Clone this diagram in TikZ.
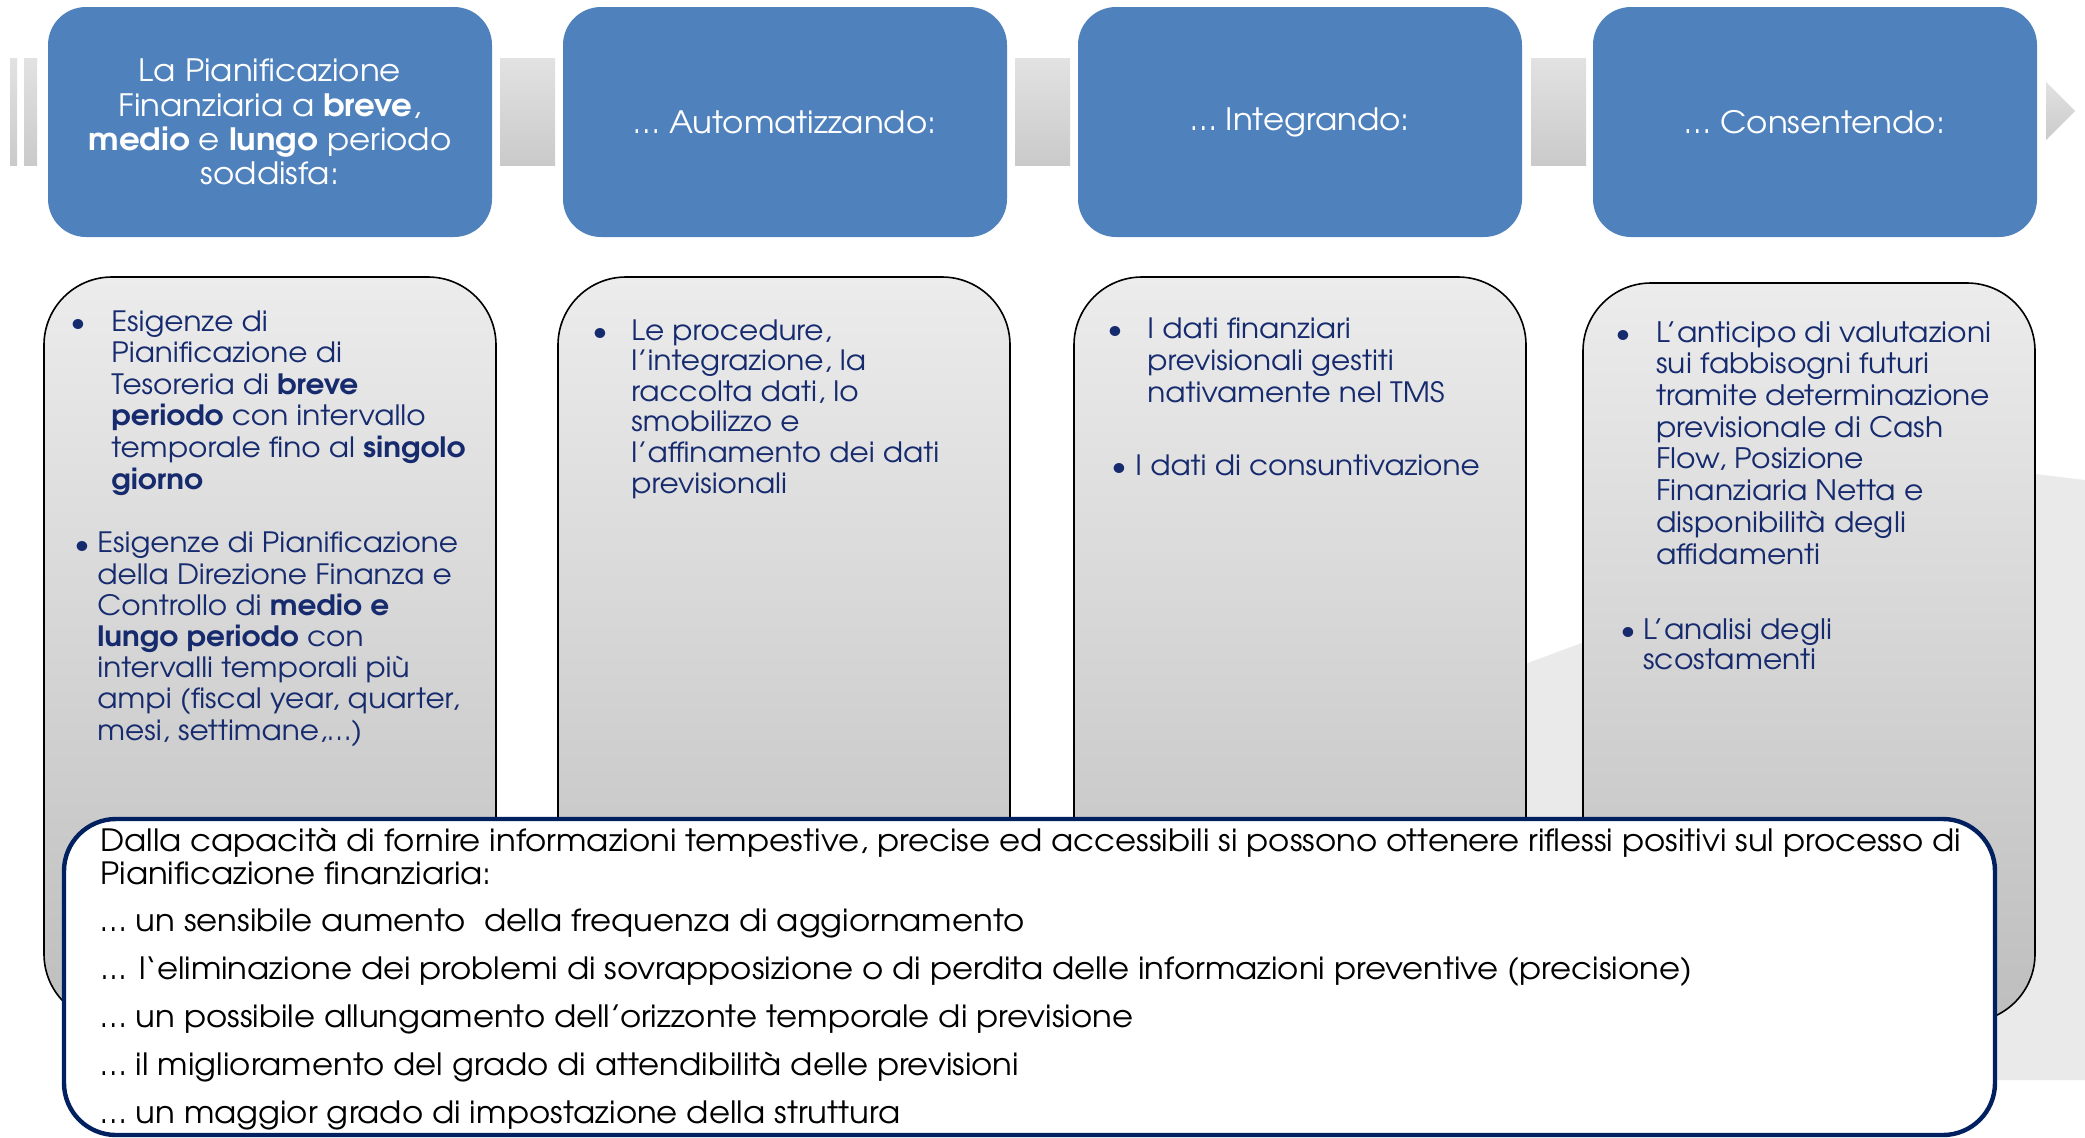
\documentclass[tikz,border=0pt]{standalone}
\usepackage{fontspec}
\setmainfont{TeX Gyre Adventor}[FakeStretch=1.055]
\definecolor{blueBox}{RGB}{79,129,189}
\definecolor{navyText}{RGB}{22,42,110}
\definecolor{navyLine}{RGB}{0,32,96}
\definecolor{barTop}{RGB}{226,226,226}
\definecolor{barBot}{RGB}{202,202,202}
\definecolor{panelTop}{RGB}{236,236,236}
\definecolor{panelBot}{RGB}{190,190,190}
\definecolor{bgShape}{RGB}{234,234,234}
\begin{document}
\begin{tikzpicture}[x=0.5pt,y=-0.5pt,
  headbox/.style={rectangle, rounded corners=19pt, fill=blueBox, minimum width=222pt, minimum height=115pt, inner sep=0pt, text=white, align=center, font=\fontsize{15.4}{17.15}\selectfont},
  barbox/.style={rectangle, inner sep=0pt, minimum height=53.5pt, top color=barTop, bottom color=barBot, draw=none},
  panel/.style={rectangle, rounded corners=34pt, draw=black, line width=0.8pt, top color=panelTop, bottom color=panelBot, minimum width=226pt, inner sep=0pt},
  itemtext/.style={anchor=base west, inner sep=0pt, align=left, text=navyText},
  bulletmark/.style={anchor=base, inner sep=0pt, text=navyText, font=\fontsize{14}{16}\selectfont},
  summary/.style={rectangle, rounded corners=26pt, draw=navyLine, line width=2.2pt, fill=white, minimum width=965.5pt, minimum height=158pt, inner sep=0pt},
  summarytext/.style={anchor=base west, inner sep=0pt, align=left, text=black, font=\fontsize{15.35}{16.5}\selectfont}
]
\useasboundingbox (0,0) rectangle (2085,1137);

% faint background shape
\fill[bgShape] (1450,692) -- (2035,474) -- (2085,480) -- (2085,1080) -- (1995,1080) -- (1450,1080) -- cycle;

% process bars
\node[barbox, minimum width=3.5pt] (barA) at (13.5,111.5) {};
\node[barbox, minimum width=6.5pt] (barB) at (30.5,111.5) {};
\node[barbox, minimum width=27.5pt] (bar12) at (527.5,111.5) {};
\node[barbox, minimum width=27.5pt] (bar23) at (1042.5,111.5) {};
\node[barbox, minimum width=27.5pt] (bar34) at (1558.5,111.5) {};
\coordinate (tipA) at (2046,82);
\coordinate (tipB) at (2075,111);
\coordinate (tipC) at (2046,140);
\shade[top color=barTop, bottom color=barBot] (tipA) -- (tipB) -- (tipC) -- cycle;

% header boxes
\node[headbox] (h1) at (270,122) {La Pianificazione\\Finanziaria a \textbf{breve},\\\textbf{medio} e \textbf{lungo} periodo\\soddisfa:};
\node[headbox] (h2) at (785,122) {… Automatizzando:};
\node[headbox] (h3) at (1300,122) {… Integrando:};
\node[headbox] (h4) at (1815,122) {… Consentendo:};

% panels
\node[panel, minimum height=372.5pt] (p1) at (270,649.5) {};
\node[panel, minimum height=372.5pt] (p2) at (784,649.5) {};
\node[panel, minimum height=372.5pt] (p3) at (1300,649.5) {};
\node[panel, minimum height=369.5pt] (p4) at (1809,652.5) {};

% panel 1
\node[bulletmark] (b11) at (78,331) {•};
\node[itemtext, font=\fontsize{14}{15.8}\selectfont] (t11) at (111,489) {Esigenze di\\Pianificazione di\\Tesoreria di \textbf{breve}\\\textbf{periodo} con intervallo\\temporale fino al \textbf{singolo}\\\textbf{giorno}};
\node[bulletmark] (b12) at (82,553) {•};
\node[itemtext, font=\fontsize{14}{15.6}\selectfont] (t12) at (97,740) {Esigenze di Pianificazione\\della Direzione Finanza e\\Controllo di \textbf{medio e}\\\textbf{lungo periodo} con\\intervalli temporali più\\ampi (fiscal year, quarter,\\mesi, settimane,…)};

% panel 2
\node[bulletmark] (b21) at (600,340) {•};
\node[itemtext, font=\fontsize{14}{15.3}\selectfont] (t21) at (631,493) {Le procedure,\\l’integrazione, la\\raccolta dati, lo\\smobilizzo e\\l’affinamento dei dati\\previsionali};

% panel 3
\node[bulletmark] (b31) at (1115,338) {•};
\node[itemtext, font=\fontsize{14}{16}\selectfont] (t31) at (1147,402) {I dati finanziari\\previsionali gestiti\\nativamente nel TMS};
\node[bulletmark] (b32) at (1119,475) {•};
\node[itemtext, font=\fontsize{14}{16}\selectfont] (t32) at (1135,475) {I dati di consuntivazione};

% panel 4
\node[bulletmark] (b41) at (1623,342) {•};
\node[itemtext, font=\fontsize{14.1}{15.85}\selectfont] (t41) at (1656,564) {L’anticipo di valutazioni\\sui fabbisogni futuri\\tramite determinazione\\previsionale di Cash\\Flow, Posizione\\Finanziaria Netta e\\disponibilità degli\\affidamenti};
\node[bulletmark] (b42) at (1628,639) {•};
\node[itemtext, font=\fontsize{14.1}{15}\selectfont] (t42) at (1643,669) {L’analisi degli\\scostamenti};

% summary box
\node[summary] (s) at (1029.5,977) {};
\node[summarytext] (st) at (100,1123) {Dalla capacità di fornire informazioni tempestive, precise ed accessibili si possono ottenere riflessi positivi sul processo di\\Pianificazione finanziaria:\\[7.4pt]
… un sensibile aumento\ \ della frequenza di aggiornamento\\[7.4pt]
... l‘eliminazione dei problemi di sovrapposizione o di perdita delle informazioni preventive (precisione)\\[7.4pt]
… un possibile allungamento dell’orizzonte temporale di previsione\\[7.4pt]
… il miglioramento del grado di attendibilità delle previsioni\\[7.4pt]
… un maggior grado di impostazione della struttura};
\end{tikzpicture}
\end{document}
